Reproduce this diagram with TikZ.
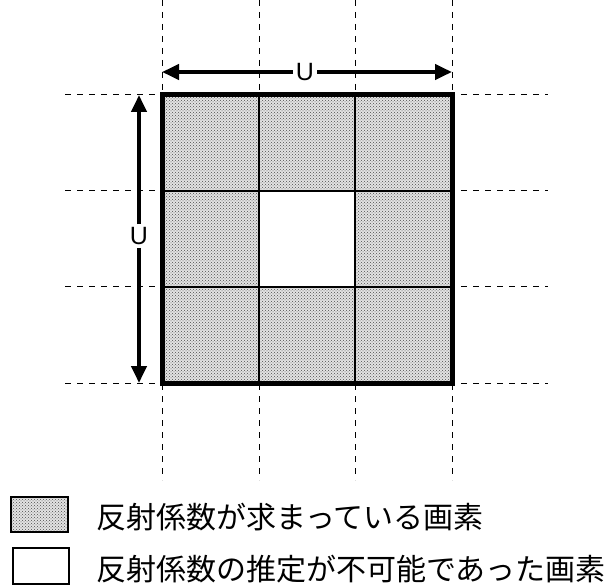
\documentclass[tikz,border=0pt]{standalone}
\usepackage{fontspec}
\setmainfont{Liberation Sans}
\newfontfamily\cjk{Noto Sans CJK JP}
\usetikzlibrary{patterns,arrows.meta}
\tikzset{
  gridline/.style={dash pattern=on 6pt off 6pt, line width=1pt},
  dotbase/.style={fill=gray!22},
  dots/.style={pattern=crosshatch dots, pattern color=gray!60!black},
  thin grid/.style={line width=1.6pt},
  dimarrow/.style={line width=4pt, -{Triangle[length=17pt,width=15pt]}},
  lab/.style={fill=white, inner sep=3pt, font=\fontsize{25}{25}\selectfont},
  legtext/.style={anchor=west, inner sep=0pt, font=\cjk\fontsize{30}{30}\selectfont},
}
\begin{document}
\begin{tikzpicture}[x=1pt,y=-1pt]
\useasboundingbox (0,0) rectangle (608,588);
% cells
\fill[dotbase] (162,95) rectangle (452,383);
\fill[dots] (162,95) rectangle (452,383);
\fill[white] (259,191) rectangle (355,287);
% dashed guide lines
\foreach \x in {162,259,355,452} \draw[gridline] (\x,0) -- (\x,480);
\foreach \y in {95,191,287,383} \draw[gridline] (65,\y) -- (548,\y);
% inner grid
\foreach \x in {259,355} \draw[thin grid] (\x,95) -- (\x,383);
\foreach \y in {191,287} \draw[thin grid] (162,\y) -- (452,\y);
% border
\draw[line width=5pt] (162,95) rectangle (452,383);
% dimension arrows
\coordinate (hl) at (162,72);
\coordinate (hr) at (452,72);
\coordinate (vt) at (139,95);
\coordinate (vb) at (139,383);
\node[lab] (uh) at (305,72) {U};
\node[lab] (uv) at (139,236) {U};
\draw[dimarrow] (uh) -- (hl);
\draw[dimarrow] (uh) -- (hr);
\draw[dimarrow] (uv) -- (vt);
\draw[dimarrow] (uv) -- (vb);
% legend
\fill[dotbase] (11,497) rectangle (68,532);
\fill[dots] (11,497) rectangle (68,532);
\draw[line width=1.2pt] (11,497) rectangle (68,532);
\draw[line width=1.2pt] (13,548) rectangle (69,584);
\node[legtext] (t1) at (96,517) {反射係数が求まっている画素};
\node[legtext] (t2) at (96,569) {反射係数の推定が不可能であった画素};
\end{tikzpicture}
\end{document}
